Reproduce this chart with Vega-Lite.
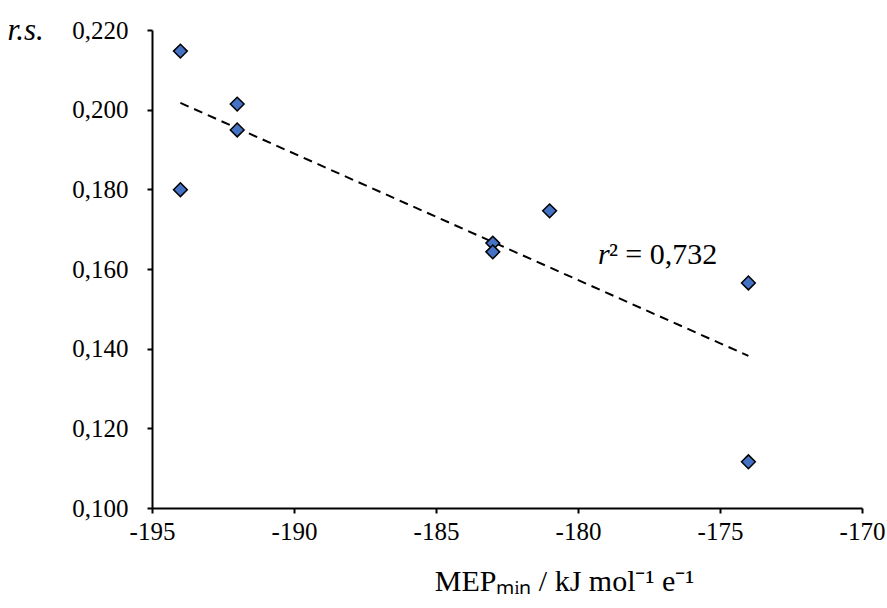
{
  "$schema": "https://vega.github.io/schema/vega-lite/v6.json",
  "autosize": {"type": "none"},
  "width": 710,
  "height": 478,
  "padding": {"left": 152, "top": 30, "right": 25, "bottom": 100},
  "background": "white",
  "config": {
    "view": {"stroke": null},
    "font": "Liberation Serif",
    "axis": {
      "grid": false,
      "domainColor": "black",
      "domainWidth": 2,
      "tickColor": "black",
      "tickWidth": 2,
      "tickSize": 5,
      "labelFlush": false,
      "labelOverlap": false,
      "labelFont": "Liberation Serif",
      "labelFontSize": 25,
      "labelColor": "black",
      "titleFont": "Liberation Serif",
      "titleColor": "black",
      "titleFontWeight": "normal"
    }
  },
  "data": {
    "values": [
      {"mep": -194, "rs": 0.2147},
      {"mep": -194, "rs": 0.1799},
      {"mep": -192, "rs": 0.2014},
      {"mep": -192, "rs": 0.1949},
      {"mep": -183, "rs": 0.1665},
      {"mep": -183, "rs": 0.1643},
      {"mep": -181, "rs": 0.1746},
      {"mep": -174, "rs": 0.1565},
      {"mep": -174, "rs": 0.1116}
    ]
  },
  "layer": [
    {
      "transform": [{"regression": "rs", "on": "mep"}],
      "mark": {"type": "line", "color": "black", "strokeWidth": 2, "strokeDash": [9, 6]},
      "encoding": {
        "x": {"field": "mep", "type": "quantitative"},
        "y": {"field": "rs", "type": "quantitative"}
      }
    },
    {
      "mark": {"type": "point", "shape": "diamond", "filled": true, "fill": "#4472C4", "stroke": "black", "strokeWidth": 1.5, "size": 190, "opacity": 1},
      "encoding": {
        "x": {
          "field": "mep", "type": "quantitative",
          "scale": {"domain": [-195, -170], "nice": false, "zero": false},
          "axis": {
            "values": [-195, -190, -185, -180, -175, -170],
            "labelExpr": "'' + datum.value",
            "labelPadding": 6,
            "title": "MEPₘᵢₙ / kJ mol⁻¹ e⁻¹",
            "titleFontSize": 30,
            "titlePadding": 22,
            "titleX": 412,
            "titleAnchor": "start",
            "titleAlign": "center"
          }
        },
        "y": {
          "field": "rs", "type": "quantitative",
          "scale": {"domain": [0.1, 0.22], "nice": false, "zero": false},
          "axis": {
            "values": [0.1, 0.12, 0.14, 0.16, 0.18, 0.2, 0.22],
            "labelExpr": "replace(format(datum.value, '.3f'), '.', ',')",
            "labelPadding": 19,
            "title": "r.s.",
            "titleFontStyle": "italic",
            "titleFontSize": 31,
            "titleAngle": 0,
            "titleAlign": "left",
            "titleBaseline": "middle",
            "titleX": -145,
            "titleY": 0
          }
        }
      }
    },
    {
      "data": {"values": [{"mep": -179.3, "rs": 0.1635}]},
      "mark": {"type": "text", "text": "r", "fontStyle": "italic", "align": "left", "baseline": "middle", "fontSize": 30, "font": "Liberation Serif", "color": "black"},
      "encoding": {
        "x": {"field": "mep", "type": "quantitative"},
        "y": {"field": "rs", "type": "quantitative"}
      }
    },
    {
      "data": {"values": [{"mep": -179.3, "rs": 0.1635}]},
      "mark": {"type": "text", "text": "² = 0,732", "dx": 11, "align": "left", "baseline": "middle", "fontSize": 30, "font": "Liberation Serif", "color": "black"},
      "encoding": {
        "x": {"field": "mep", "type": "quantitative"},
        "y": {"field": "rs", "type": "quantitative"}
      }
    }
  ]
}
